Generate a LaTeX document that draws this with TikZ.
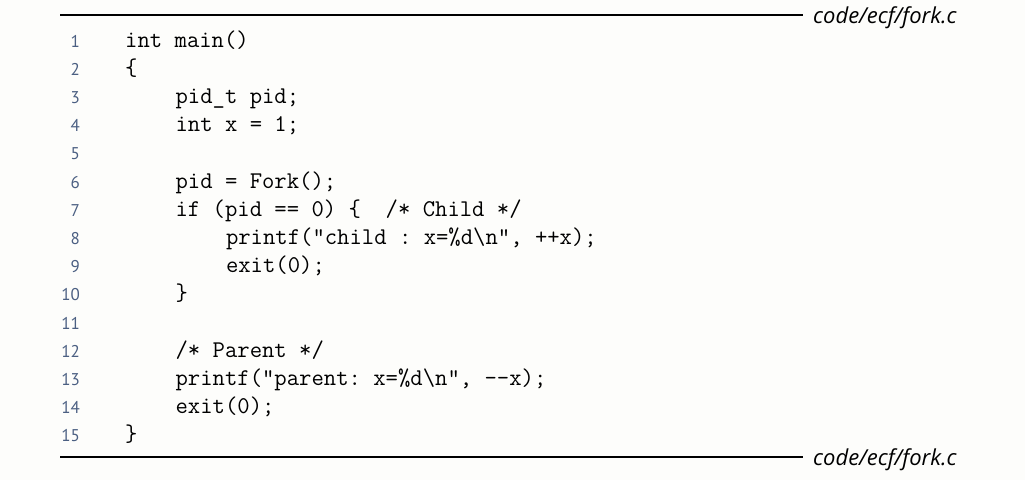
\documentclass[tikz,border=0pt]{standalone}
\usepackage{fontspec}
\usepackage{tikz}
\usepackage{xcolor}
\usetikzlibrary{math}

\newfontfamily\numfont{PT Sans}
\newfontfamily\labfont{Open Sans}

\definecolor{numblue}{RGB}{75,95,130}
\definecolor{paper}{RGB}{253,253,251}

\tikzset{
  rule/.style={line width=1.6pt, black},
  lineno/.style={anchor=base east, inner sep=0pt, text=numblue, font=\numfont\fontsize{17}{17}\selectfont},
  codeline/.style={anchor=base west, inner sep=0pt, font=\ttfamily\frenchspacing\fontsize{24}{24}\selectfont},
  filelabel/.style={anchor=base west, inner sep=0pt, font=\labfont\itshape\fontsize{22}{22}\selectfont}
}

\begin{document}
\begin{tikzpicture}[x=1pt, y=-1pt]

\tikzmath{
\pitch = 28.2;
\first = 47;
\numx = 80;
\codex = 125;
\ind = 50.4;
}

\fill[paper] (0,0) rectangle (1025,480);
\useasboundingbox (0,0) rectangle (1025,480);

% rules and file labels
\coordinate (topL) at (60,15);
\coordinate (topR) at (803,15);
\coordinate (botL) at (60,457);
\coordinate (botR) at (803,457);
\draw[rule] (topL) -- (topR);
\draw[rule] (botL) -- (botR);
\node[filelabel] (toplab) at (813,23) {code/ecf/fork.c};
\node[filelabel] (botlab) at (813,465) {code/ecf/fork.c};

% line numbers
\node[lineno] (n1) at (\numx, {\first}) {1};
\node[lineno] (n2) at (\numx, {\first+1*\pitch}) {2};
\node[lineno] (n3) at (\numx, {\first+2*\pitch}) {3};
\node[lineno] (n4) at (\numx, {\first+3*\pitch}) {4};
\node[lineno] (n5) at (\numx, {\first+4*\pitch}) {5};
\node[lineno] (n6) at (\numx, {\first+5*\pitch}) {6};
\node[lineno] (n7) at (\numx, {\first+6*\pitch}) {7};
\node[lineno] (n8) at (\numx, {\first+7*\pitch}) {8};
\node[lineno] (n9) at (\numx, {\first+8*\pitch}) {9};
\node[lineno] (n10) at (\numx, {\first+9*\pitch}) {10};
\node[lineno] (n11) at (\numx, {\first+10*\pitch}) {11};
\node[lineno] (n12) at (\numx, {\first+11*\pitch}) {12};
\node[lineno] (n13) at (\numx, {\first+12*\pitch}) {13};
\node[lineno] (n14) at (\numx, {\first+13*\pitch}) {14};
\node[lineno] (n15) at (\numx, {\first+14*\pitch}) {15};

% code
\node[codeline] (c1) at (\codex, {\first}) {int main()};
\node[codeline] (c2) at (\codex, {\first+1*\pitch}) {\{};
\node[codeline] (c3) at ({\codex+\ind}, {\first+2*\pitch}) {pid\_t pid;};
\node[codeline] (c4) at ({\codex+\ind}, {\first+3*\pitch}) {int x = 1;};
\node[codeline] (c6) at ({\codex+\ind}, {\first+5*\pitch}) {pid = Fork();};
\node[codeline] (c7) at ({\codex+\ind}, {\first+6*\pitch}) {if (pid == 0) \{\ \ /* Child */};
\node[codeline] (c8) at ({\codex+2*\ind}, {\first+7*\pitch}) {printf("child : x=\%d\textbackslash n", ++x);};
\node[codeline] (c9) at ({\codex+2*\ind}, {\first+8*\pitch}) {exit(0);};
\node[codeline] (c10) at ({\codex+\ind}, {\first+9*\pitch}) {\}};
\node[codeline] (c12) at ({\codex+\ind}, {\first+11*\pitch}) {/* Parent */};
\node[codeline] (c13) at ({\codex+\ind}, {\first+12*\pitch}) {printf("parent: x=\%d\textbackslash n", -\kern0pt-x);};
\node[codeline] (c14) at ({\codex+\ind}, {\first+13*\pitch}) {exit(0);};
\node[codeline] (c15) at (\codex, {\first+14*\pitch}) {\}};

\end{tikzpicture}
\end{document}
